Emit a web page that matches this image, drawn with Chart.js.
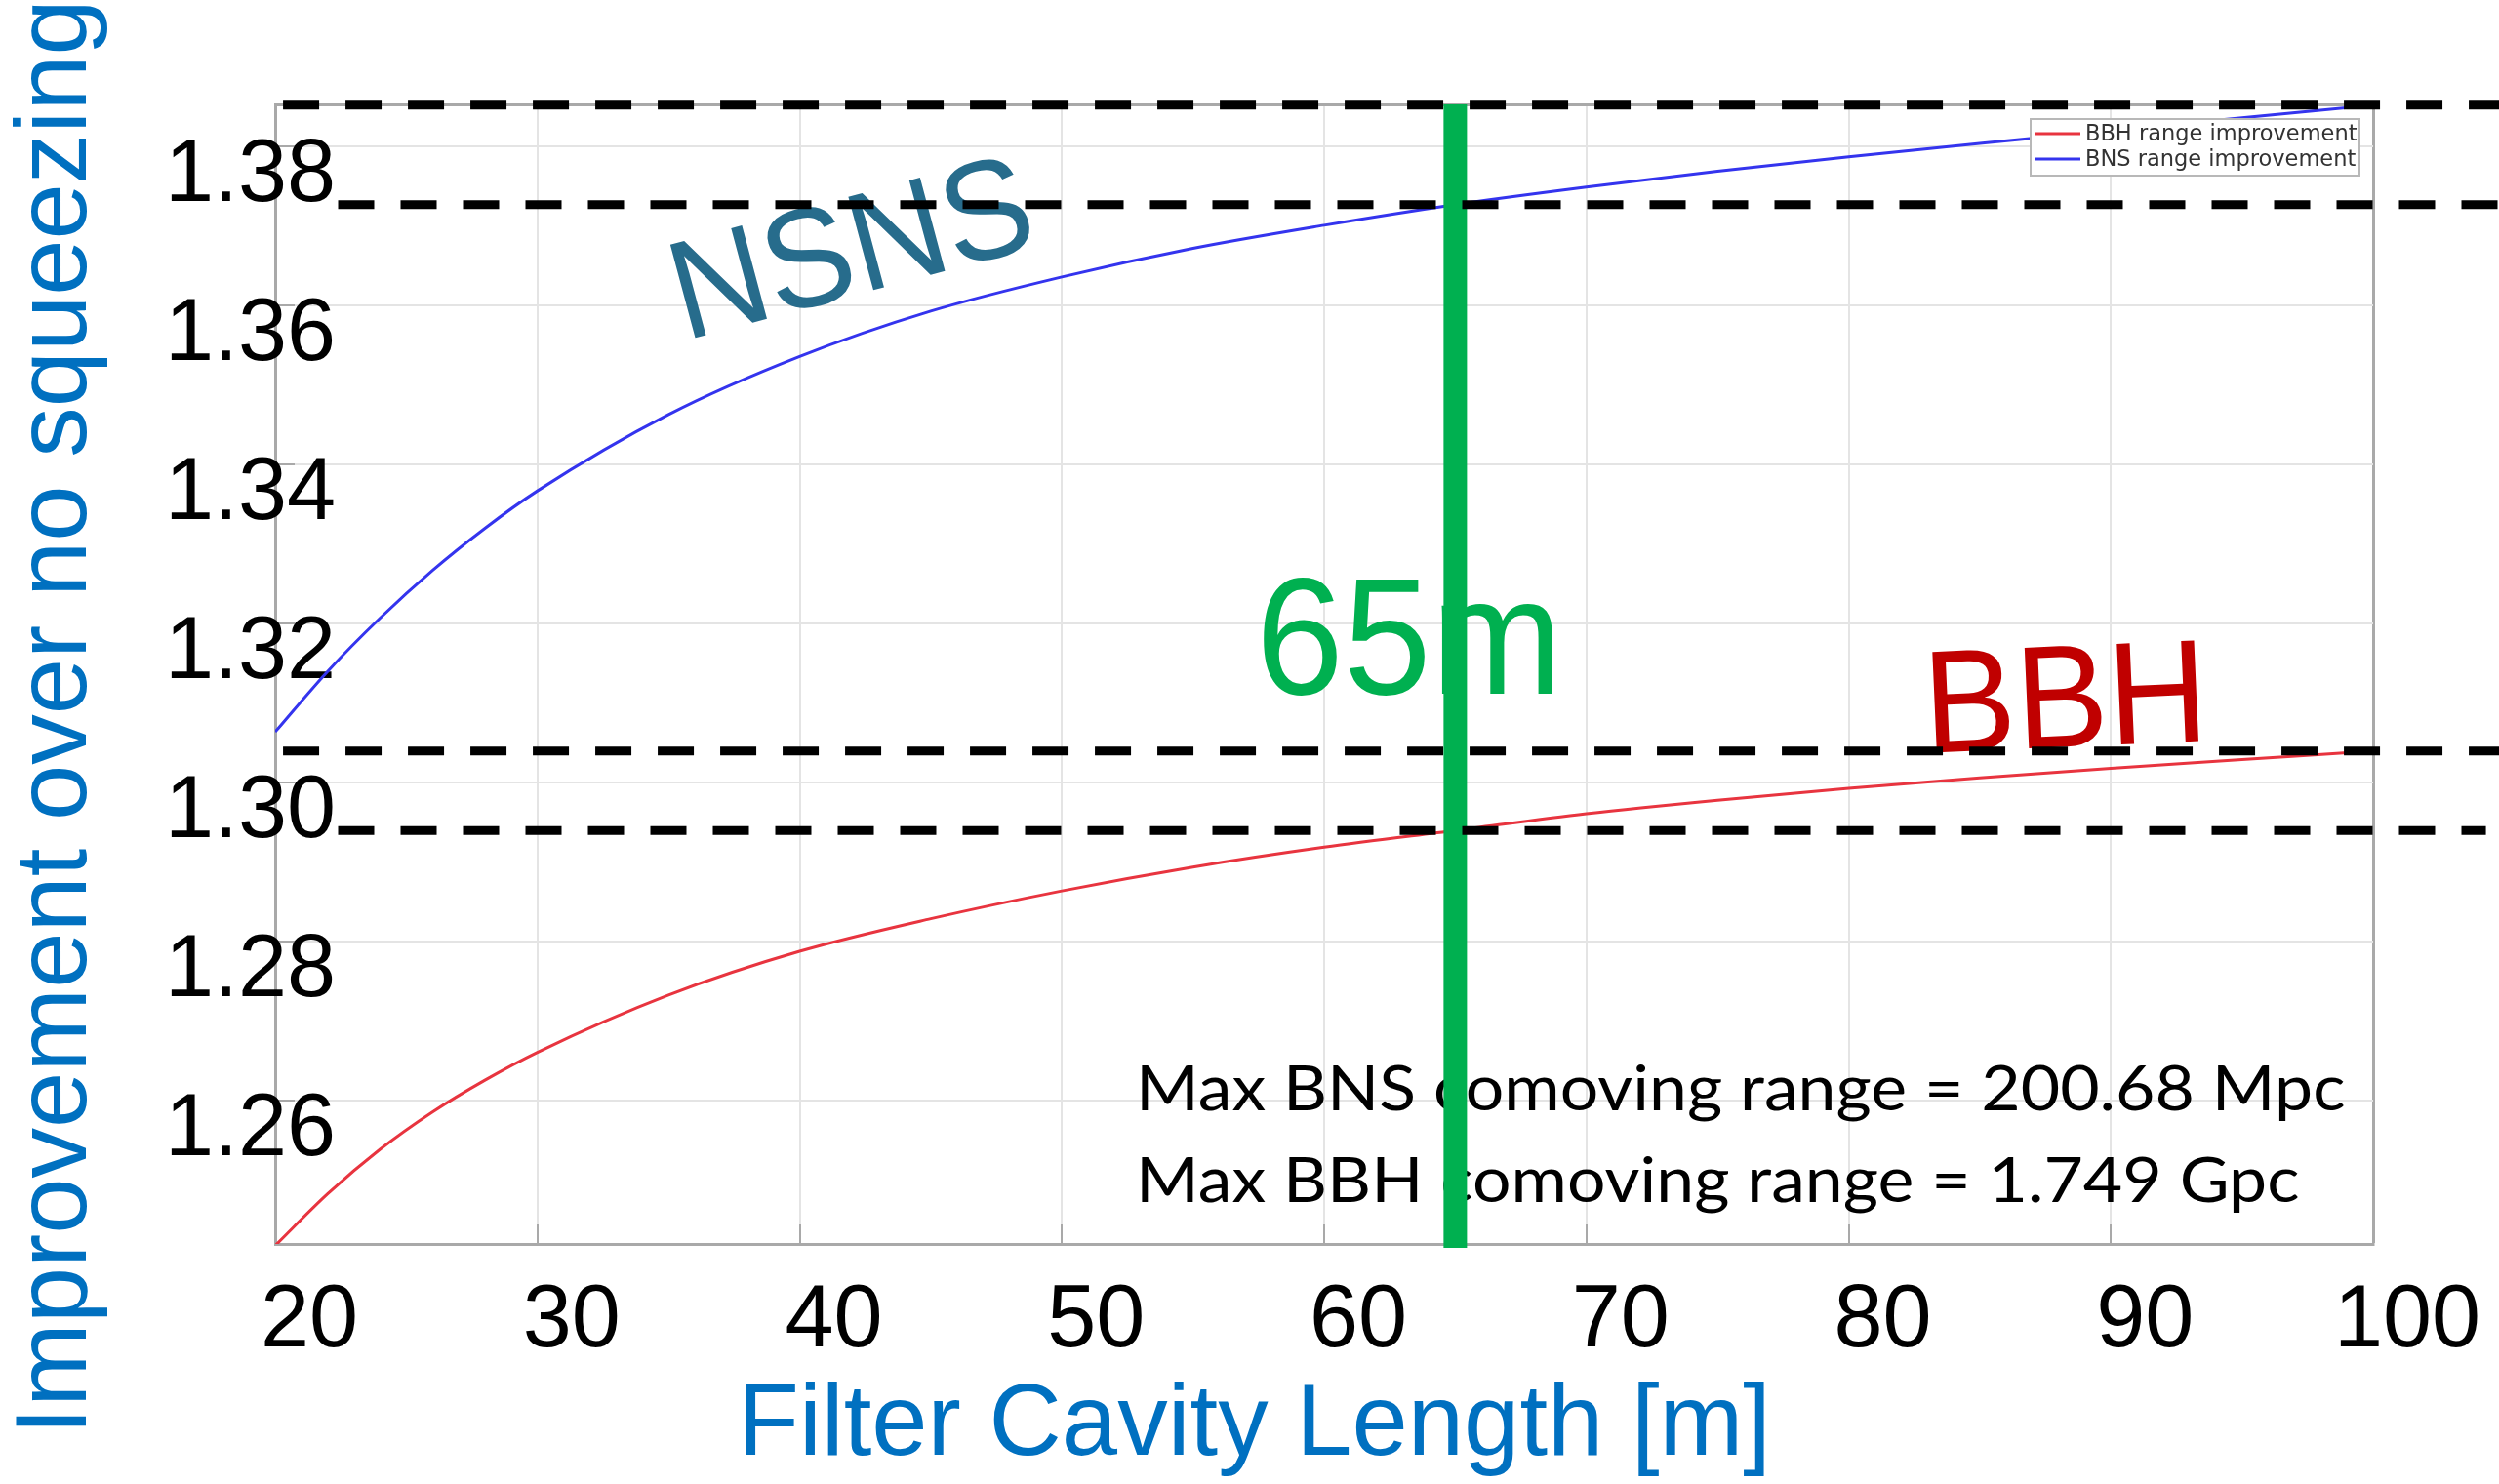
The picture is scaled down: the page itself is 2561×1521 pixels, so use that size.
<!DOCTYPE html>
<html>
<head>
<meta charset="utf-8">
<title>Filter cavity length vs. range improvement</title>
<script src="https://cdn.jsdelivr.net/npm/chart.js@4.4.1/dist/chart.umd.min.js"></script>
<style>
  html, body { margin: 0; padding: 0; background: #ffffff; }
  canvas { display: block; }
</style>
</head>
<body>
<canvas id="chart" width="2561" height="1521"></canvas>
<script>
// Filter cavity length [m]
const cavityLength = [20, 22, 24, 26, 28, 30, 35, 40, 45, 50, 55, 60, 65, 70, 75, 80, 85, 90, 95, 100];
// Range improvement over no squeezing
const bnsImprovement = [1.3064, 1.3140, 1.3207, 1.3267, 1.3320, 1.3367, 1.3463, 1.3536, 1.3593, 1.3636,
                        1.3672, 1.3701, 1.3727, 1.3749, 1.3769, 1.3787, 1.3804, 1.3820, 1.3836, 1.3852];
const bbhImprovement = [1.2418, 1.2483, 1.2539, 1.2586, 1.2626, 1.2661, 1.2733, 1.2788, 1.2829, 1.2864,
                        1.2894, 1.2919, 1.2940, 1.2961, 1.2978, 1.2993, 1.3006, 1.3018, 1.3029, 1.3040];
// Axis ticks and range
const xTicks = [20, 30, 40, 50, 60, 70, 80, 90, 100];
const yTicks = [1.26, 1.28, 1.30, 1.32, 1.34, 1.36, 1.38];
const yMin = 1.2420;
const yMax = 1.3853;
// Chosen filter cavity length
const chosenLength = 65;

const seriesLabels = ['BBH range improvement', 'BNS range improvement'];
const xTitle = 'Filter Cavity Length [m]';
const yTitle = 'Improvement over no squeezing';
const notes = ['Max BNS comoving range = 200.68 Mpc', 'Max BBH comoving range = 1.749 Gpc'];

const SANS = '"Liberation Sans", Arial, Helvetica, sans-serif';
const gridColor = '#e4e4e4';
const boxColor = '#a9a9a9';
const titleBlue = '#0070c0';

const toPoints = (ys) => cavityLength.map((x, i) => ({ x, y: ys[i] }));
const iChosen = cavityLength.indexOf(chosenLength);
const iLast = cavityLength.length - 1;

// Horizontal dashed guides at the improvement reached at the chosen and the longest length
const guides = [
  { level: bnsImprovement[iLast],   from: 20.3, to: 104.8 },
  { level: bnsImprovement[iChosen], from: 22.4, to: 104.8 },
  { level: bbhImprovement[iLast],   from: 20.3, to: 104.8 },
  { level: bbhImprovement[iChosen], from: 22.4, to: 104.3 }
];

const guideSets = guides.map(g => ({
  label: 'guide',
  data: [{ x: g.from, y: g.level }, { x: g.to, y: g.level }],
  borderColor: '#000000',
  borderWidth: 9,
  borderDash: [37, 27],
  borderCapStyle: 'butt',
  pointRadius: 0,
  clip: false,
  order: 0,
  isGuide: true
}));

const datasets = [
  ...guideSets,
  {
    label: 'marker',
    data: [{ x: chosenLength, y: yMax }, { x: chosenLength, y: 1.2415 }],
    borderColor: '#00b050',
    borderWidth: 24,
    borderCapStyle: 'butt',
    pointRadius: 0,
    clip: false,
    order: 1,
    isGuide: true
  },
  {
    label: seriesLabels[0],
    data: toPoints(bbhImprovement),
    borderColor: '#e8343f',
    borderWidth: 3,
    pointRadius: 0,
    cubicInterpolationMode: 'monotone',
    order: 2
  },
  {
    label: seriesLabels[1],
    data: toPoints(bnsImprovement),
    borderColor: '#3434ee',
    borderWidth: 3,
    pointRadius: 0,
    cubicInterpolationMode: 'monotone',
    order: 2
  }
];

// Free text placed over the plot
const annotations = {
  id: 'annotations',
  beforeDatasetsDraw(chart) {
    const ctx = chart.ctx;

    // vertical axis title
    ctx.save();
    ctx.font = '103px ' + SANS;
    ctx.fillStyle = titleBlue;
    ctx.textAlign = 'center';
    ctx.textBaseline = 'alphabetic';
    ctx.translate(88, 735);
    ctx.rotate(-Math.PI / 2);
    ctx.fillText(yTitle, 0, 0);
    ctx.restore();

    // NSNS
    ctx.save();
    ctx.font = '144px ' + SANS;
    ctx.fillStyle = '#276c8c';
    ctx.textAlign = 'center';
    ctx.textBaseline = 'middle';
    ctx.translate(874, 262);
    ctx.rotate(-15 * Math.PI / 180);
    ctx.scale(0.945, 1);
    ctx.fillText('NSNS', 0, 0);
    ctx.restore();

    // BBH
    ctx.save();
    ctx.font = '150px ' + SANS;
    ctx.fillStyle = '#c00000';
    ctx.textAlign = 'center';
    ctx.textBaseline = 'middle';
    ctx.translate(2117, 724);
    ctx.rotate(-2.5 * Math.PI / 180);
    ctx.scale(0.945, 1);
    ctx.fillText('BBH', 0, 0);
    ctx.restore();

    // 65m
    ctx.save();
    ctx.font = '170px ' + SANS;
    ctx.fillStyle = '#00b050';
    ctx.textAlign = 'left';
    ctx.textBaseline = 'alphabetic';
    ctx.translate(1287, 711);
    ctx.scale(0.95, 1);
    ctx.fillText(chosenLength + 'm', 0, 0);
    ctx.restore();

    // comoving range notes
    ctx.save();
    ctx.font = '64px Lato, "Open Sans", sans-serif';
    ctx.fillStyle = '#000000';
    ctx.textAlign = 'left';
    ctx.textBaseline = 'alphabetic';
    ctx.translate(1164, 0);
    ctx.scale(1.09, 1);
    ctx.fillText(notes[0], 0, 1138);
    ctx.fillText(notes[1], 0, 1232);
    ctx.restore();
  }
};

// Boxed legend in the upper right corner of the plot
const boxedLegend = {
  id: 'boxedLegend',
  afterDatasetsDraw(chart) {
    const ctx = chart.ctx;
    const x = 2081, y = 122, w = 337, h = 58;
    ctx.save();
    ctx.fillStyle = '#ffffff';
    ctx.fillRect(x, y, w, h);
    ctx.strokeStyle = '#b8b8b8';
    ctx.lineWidth = 2;
    ctx.strokeRect(x, y, w, h);
    ctx.font = '22.5px "DejaVu Sans", sans-serif';
    ctx.textBaseline = 'middle';
    ctx.textAlign = 'left';
    const series = chart.data.datasets.filter(d => !d.isGuide);
    series.forEach((d, i) => {
      const ly = y + 15 + i * 26;
      ctx.strokeStyle = d.borderColor;
      ctx.lineWidth = 3;
      ctx.beginPath();
      ctx.moveTo(x + 4, ly);
      ctx.lineTo(x + 51, ly);
      ctx.stroke();
      ctx.fillStyle = '#333333';
      ctx.fillText(d.label, x + 56, ly + 1);
    });
    ctx.restore();
  }
};

new Chart(document.getElementById('chart'), {
  type: 'line',
  data: { datasets },
  options: {
    responsive: false,
    animation: false,
    devicePixelRatio: 1,
    events: [],
    layout: { padding: { top: 107, right: 129, left: 0, bottom: 0 } },
    plugins: {
      legend: { display: false },
      tooltip: { enabled: false }
    },
    scales: {
      x: {
        type: 'linear',
        min: 20,
        max: 100,
        afterBuildTicks: (s) => { s.ticks = xTicks.map(v => ({ value: v })); },
        afterFit: (s) => { s.height = 246; },
        grid: {
          color: (c) => (c.tick && c.tick.value === 100 ? boxColor : gridColor),
          lineWidth: (c) => (c.tick && c.tick.value === 100 ? 3 : 2),
          drawTicks: true,
          tickLength: -20,
          tickColor: boxColor,
          tickWidth: 2
        },
        border: { display: true, color: boxColor, width: 3 },
        ticks: {
          font: { family: SANS, size: 90 },
          color: '#000000',
          padding: 46,
          labelOffset: 35,
          maxRotation: 0,
          autoSkip: false
        },
        title: {
          display: true,
          text: xTitle + '\u00a0'.repeat(5),
          color: titleBlue,
          font: { family: SANS, size: 103, lineHeight: 1 },
          padding: { top: 0, bottom: 7 }
        }
      },
      y: {
        type: 'linear',
        min: yMin,
        max: yMax,
        afterBuildTicks: (s) => { s.ticks = yTicks.concat([yMax]).map(v => ({ value: v })); },
        afterFit: (s) => { s.width = 282; },
        grid: {
          color: (c) => (c.tick && c.tick.value === yMax ? boxColor : gridColor),
          lineWidth: (c) => (c.tick && c.tick.value === yMax ? 3 : 2),
          drawTicks: true,
          tickLength: -20,
          tickColor: boxColor,
          tickWidth: 2
        },
        border: { display: true, color: boxColor, width: 3 },
        ticks: {
          font: { family: SANS, size: 90 },
          color: '#000000',
          mirror: true,
          crossAlign: 'near',
          padding: -113,
          labelOffset: 31,
          autoSkip: false,
          callback: (v) => (yTicks.includes(v) ? v.toFixed(2) : '')
        }
      }
    }
  },
  plugins: [annotations, boxedLegend]
});
</script>
</body>
</html>
